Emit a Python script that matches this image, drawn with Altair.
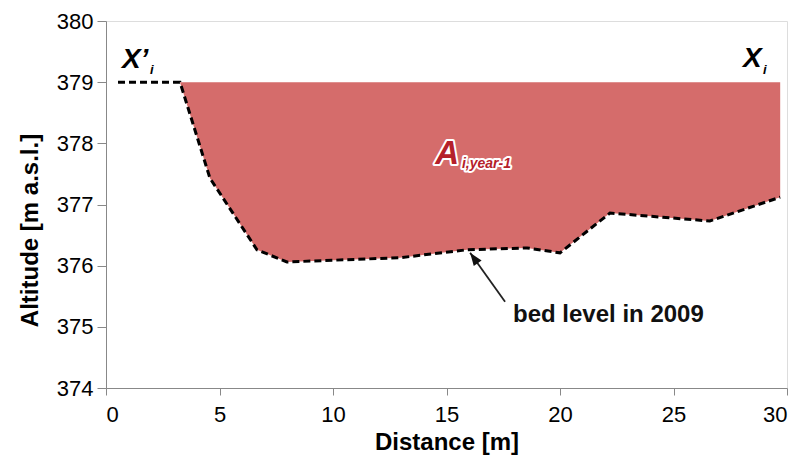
import altair as alt
import pandas as pd

# Surveyed bed profile of the cross-section (2009)
bed_dist = [0.53, 3.26, 4.58, 6.65, 7.97, 12.95, 15.9, 18.55, 20.0, 22.2, 26.6, 29.7]
bed_alt = [379.0, 379.0, 377.43, 376.26, 376.06, 376.13, 376.26, 376.29, 376.21, 376.86, 376.73, 377.12]

# Water surface level bounding the wetted area
water_level = 379.0

# Text annotations (position in data units)
label_text = ["X\u2019", "X"]
label_dist = [0.70, 28.06]
label_alt = [379.23, 379.25]
sub_text = ["i", "i"]
sub_dist = [1.94, 28.94]
sub_alt = [379.14, 379.13]

area_text = ["A"]
area_dist = [14.50]
area_alt = [377.66]
area_sub_text = ["i,year-1"]
area_sub_dist = [15.68]
area_sub_alt = [377.60]

note_text = ["bed level in 2009"]
note_dist = [17.93]
note_alt = [375.08]

# Arrow from the note to the bed line
arrow_tail = (17.58, 375.41)
arrow_head = (16.04, 376.21)

FONT = "Liberation Sans"

bed = pd.DataFrame({"dist": bed_dist, "alt": bed_alt})
wet = bed.iloc[1:].copy()
wet["top"] = water_level

x_scale = alt.Scale(domain=[0, 30], nice=False, zero=False)
y_scale = alt.Scale(domain=[374, 380], nice=False, zero=False)

x_axis = alt.Axis(
    values=[0, 5, 10, 15, 20, 25, 30], format="d", title="Distance [m]", grid=False,
    tickSize=7, labelPadding=9, labelFontSize=22, labelFont=FONT,
    titleFontSize=24, titleFont=FONT, titleFontWeight="bold",
    titleY=61, titleBaseline="alphabetic",
)
y_axis = alt.Axis(
    values=[374, 375, 376, 377, 378, 379, 380], format="d", title="Altitude [m a.s.l.]", grid=False,
    tickSize=9, labelPadding=4, labelFontSize=22, labelFont=FONT,
    titleFontSize=24, titleFont=FONT, titleFontWeight="bold",
    titleX=-69, titleY=209, titleAngle=270, titleBaseline="alphabetic", titleAlign="center",
)

area = alt.Chart(wet).mark_area(color="#D56C6B", opacity=1).encode(
    x=alt.X("dist:Q", scale=x_scale, axis=x_axis),
    y=alt.Y("alt:Q", scale=y_scale, axis=y_axis),
    y2="top:Q",
)

line = alt.Chart(bed).mark_line(color="black", strokeWidth=3, strokeDash=[7, 4]).encode(
    x=alt.X("dist:Q", scale=x_scale),
    y=alt.Y("alt:Q", scale=y_scale),
)

labels = pd.DataFrame({"t": label_text, "dist": label_dist, "alt": label_alt})
subs = pd.DataFrame({"t": sub_text, "dist": sub_dist, "alt": sub_alt})

lab = alt.Chart(labels).mark_text(
    font=FONT, fontSize=28, fontWeight="bold", fontStyle="italic", align="left", baseline="alphabetic", color="black"
).encode(x=alt.X("dist:Q", scale=x_scale), y=alt.Y("alt:Q", scale=y_scale), text="t:N")

sub = alt.Chart(subs).mark_text(
    font=FONT, fontSize=13, fontWeight="bold", fontStyle="italic", align="left", baseline="alphabetic", color="black"
).encode(x=alt.X("dist:Q", scale=x_scale), y=alt.Y("alt:Q", scale=y_scale), text="t:N")

a_df = pd.DataFrame({"t": area_text, "dist": area_dist, "alt": area_alt})
a_sub_df = pd.DataFrame({"t": area_sub_text, "dist": area_sub_dist, "alt": area_sub_alt})


def outlined(df, size):
    base = dict(font=FONT, fontSize=size, fontWeight="bold", fontStyle="italic", align="left", baseline="alphabetic")
    enc = dict(x=alt.X("dist:Q", scale=x_scale), y=alt.Y("alt:Q", scale=y_scale), text="t:N")
    halo = alt.Chart(df).mark_text(color="white", stroke="white", strokeWidth=4, strokeJoin="round", **base).encode(**enc)
    body = alt.Chart(df).mark_text(color="#B5202A", **base).encode(**enc)
    return halo + body


note_df = pd.DataFrame({"t": note_text, "dist": note_dist, "alt": note_alt})
note = alt.Chart(note_df).mark_text(
    font=FONT, fontSize=24, fontWeight="bold", align="left", baseline="alphabetic", color="#111111"
).encode(x=alt.X("dist:Q", scale=x_scale), y=alt.Y("alt:Q", scale=y_scale), text="t:N")

arrow_df = pd.DataFrame({
    "x": [arrow_tail[0]], "y": [arrow_tail[1]], "x2": [arrow_head[0]], "y2": [arrow_head[1]]
})
shaft = alt.Chart(arrow_df).mark_rule(color="#222222", strokeWidth=1.8).encode(
    x=alt.X("x:Q", scale=x_scale), y=alt.Y("y:Q", scale=y_scale), x2="x2:Q", y2="y2:Q"
)
head = alt.Chart(arrow_df).mark_point(
    shape="M0,0L-0.6,1.6L0.6,1.6Z", filled=True, color="#111111", size=260, opacity=1, angle=324
).encode(x=alt.X("x2:Q", scale=x_scale), y=alt.Y("y2:Q", scale=y_scale))

chart = alt.layer(
    area, line, lab, sub, outlined(a_df, 33), outlined(a_sub_df, 14), shaft, head, note
).properties(
    width=681, height=367,
    autosize=alt.AutoSizeParams(type="none"),
    padding={"left": 106, "top": 21, "right": 20, "bottom": 74},
).configure_view(stroke=None).configure_axis(
    domainColor="#555555", domainWidth=1.5, tickColor="#555555", tickWidth=1.5,
    labelColor="#222222", titleColor="#111111",
).configure(background="white")

chart.save("out.html", embed_options={"renderer": "svg", "actions": False})
